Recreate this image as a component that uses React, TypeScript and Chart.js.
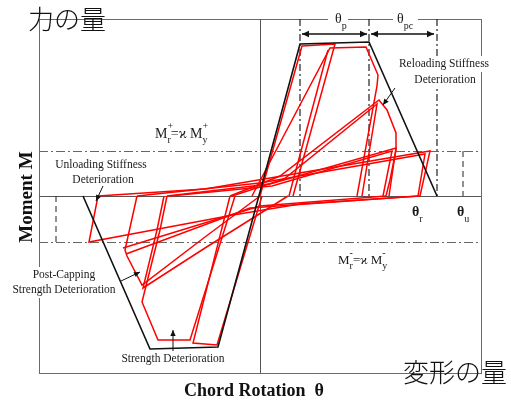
import React, { useEffect, useRef } from "react";
import { Chart, registerables } from "chart.js";
Chart.register(...registerables);

// ---- axis ranges (chord rotation θ, moment M) ----
const THETA_RANGE = [-22.1, 22.1];
const M_RANGE = [-17.7, 17.7];

// ---- backbone (black) ----
const backboneTheta = [-17.7, -11.0, -4.2, 4.0, 10.9, 17.7];
const backboneM = [0, -15.3, -15.1, 15.2, 15.4, 0];

// ---- reference lines ----
const thetaCap = 4.0;      // start of θp
const thetaPeak = 10.9;    // end of θp / start of θpc
const thetaPcEnd = 17.7;   // end of θpc (θr)
const thetaUpos = 20.3;    // θu
const thetaUneg = -20.4;
const mResPos = 4.5;       // Mr+ = κ My+
const mResNeg = -4.6;      // Mr- = κ My-

// ---- red hysteresis loops [θ, M] ----
const loopCapPos1 = [[0, 0], [4.2, 15.0], [7.5, 15.2], [3.3, 0]];
const loopCapPos1b = [[6.8, 14.6], [2.9, 0]];
const loopCapPos2 = [[-0.8, 0], [7.0, 14.8], [10.6, 14.9], [11.8, 12.1], [11.7, 11.0], [9.7, 0]];
const loopPeakA = [[-2.8, 0], [2.4, 1.7], [11.7, 9.2], [10.2, 0]];
const loopPeakB = [[-3.0, 0], [2.0, 2.0], [11.9, 9.6], [12.7, 8.6], [13.6, 6.3], [13.6, 4.6], [13.0, 1.6], [12.6, 0]];
const loopResA = [[-9.0, 0], [1.2, 1.0], [13.2, 4.5], [12.3, 0]];
const loopResB = [[-9.3, 0], [1.0, 1.2], [13.6, 4.8], [12.9, 0]];
const loopResC = [[-12.3, 0], [0, 1.3], [16.5, 4.2], [15.8, 0]];
const loopResD = [[-16.2, 0], [-5.5, 0.7], [17.0, 4.5], [16.0, 0]];
const loopCapNeg1 = [[0.2, 0], [-4.3, -14.9], [-6.7, -14.7], [-3.0, 0]];
const loopCapNeg2 = [[-2.5, 0], [-7.0, -14.4], [-10.2, -14.4], [-11.8, -10.6], [-10.0, -3.4], [-9.3, 0]];
const loopNegPeakA = [[0, 0], [-5.5, -4.1], [-11.8, -8.9], [-13.3, -6.0], [-13.5, -5.4], [-12.3, 0]];
const loopNegPeakB = [[2.8, 0], [-5.5, -5.2], [-11.7, -9.2], [-10.3, -3.4], [-9.6, 0]];
const loopNegResA = [[16.0, 0], [4.0, -0.8], [-2.7, -1.9], [-17.1, -4.6], [-16.2, 0]];
const loopNegResB = [[12.6, 0], [0, -1.0], [-13.7, -5.2]];
const loopNegResC = [[15.8, 0], [-1.0, -1.2], [-13.4, -5.8]];

const redLoops = [
  loopCapPos1, loopCapPos1b, loopCapPos2, loopPeakA, loopPeakB, loopResA, loopResB, loopResC, loopResD,
  loopCapNeg1, loopCapNeg2, loopNegPeakA, loopNegPeakB, loopNegResA, loopNegResB, loopNegResC,
];

const SERIF = '"Liberation Serif", "Times New Roman", "DejaVu Serif", serif';
const JP = '"Noto Sans CJK JP", sans-serif';

type Part = { t: string; s: number; dy: number; bold?: boolean; stay?: boolean };

function rich(ctx: CanvasRenderingContext2D, x: number, base: number, parts: Part[]) {
  let cx = x;
  ctx.textAlign = "left";
  ctx.textBaseline = "alphabetic";
  for (const p of parts) {
    ctx.font = `${p.bold ? "bold " : ""}${p.s}px ${SERIF}`;
    ctx.fillText(p.t, cx, base + p.dy);
    if (!p.stay) cx += ctx.measureText(p.t).width;
  }
}

function label(ctx: CanvasRenderingContext2D, text: string, cx: number, cy: number, font: string, bg = false) {
  ctx.font = font;
  ctx.textAlign = "center";
  ctx.textBaseline = "middle";
  if (bg) {
    const w = ctx.measureText(text).width;
    ctx.fillStyle = "#fff";
    ctx.fillRect(cx - w / 2 - 2, cy - 8, w + 4, 16);
  }
  ctx.fillStyle = "#1a1a1a";
  ctx.fillText(text, cx, cy);
}

function arrow(ctx: CanvasRenderingContext2D, x1: number, y1: number, x2: number, y2: number, head = 6, both = false, lw = 1) {
  ctx.save();
  ctx.strokeStyle = "#111";
  ctx.fillStyle = "#111";
  ctx.lineWidth = lw;
  ctx.setLineDash([]);
  ctx.beginPath();
  ctx.moveTo(x1, y1);
  ctx.lineTo(x2, y2);
  ctx.stroke();
  const tip = (ax: number, ay: number, bx: number, by: number) => {
    const a = Math.atan2(by - ay, bx - ax);
    ctx.beginPath();
    ctx.moveTo(bx, by);
    ctx.lineTo(bx - head * Math.cos(a) + head * 0.45 * Math.sin(a), by - head * Math.sin(a) - head * 0.45 * Math.cos(a));
    ctx.lineTo(bx - head * Math.cos(a) - head * 0.45 * Math.sin(a), by - head * Math.sin(a) + head * 0.45 * Math.cos(a));
    ctx.closePath();
    ctx.fill();
  };
  tip(x1, y1, x2, y2);
  if (both) tip(x2, y2, x1, y1);
  ctx.restore();
}

const decorPlugin = {
  id: "decor",
  beforeDatasetsDraw(chart: any) {
    const ctx: CanvasRenderingContext2D = chart.ctx;
    const { left, right, top, bottom } = chart.chartArea;
    const X = (v: number) => chart.scales.x.getPixelForValue(v);
    const Y = (v: number) => chart.scales.y.getPixelForValue(v);
    ctx.save();
    // frame
    ctx.strokeStyle = "#6a6a6a";
    ctx.lineWidth = 1;
    ctx.strokeRect(left + 0.5, top + 0.5, right - left, bottom - top);
    // axes
    ctx.strokeStyle = "#555";
    ctx.beginPath();
    ctx.moveTo(Math.round(X(0)) + 0.5, top);
    ctx.lineTo(Math.round(X(0)) + 0.5, bottom);
    ctx.moveTo(left, Math.round(Y(0)) + 0.5);
    ctx.lineTo(right, Math.round(Y(0)) + 0.5);
    ctx.stroke();
    // residual strength lines (dash-dot)
    ctx.strokeStyle = "#666";
    ctx.setLineDash([9, 3, 2, 3]);
    for (const m of [mResPos, mResNeg]) {
      const y = Math.round(Y(m)) + 0.5;
      ctx.beginPath();
      ctx.moveTo(left, y);
      ctx.lineTo(right, y);
      ctx.stroke();
    }
    // vertical θ lines (dash-dot)
    ctx.strokeStyle = "#222";
    ctx.lineWidth = 1.2;
    ctx.setLineDash([7, 3, 2, 3]);
    for (const t of [thetaCap, thetaPeak, thetaPcEnd]) {
      ctx.beginPath();
      ctx.moveTo(X(t), top);
      ctx.lineTo(X(t), Y(0));
      ctx.stroke();
    }
    // θu dashed
    ctx.setLineDash([6, 4]);
    ctx.lineWidth = 1;
    ctx.beginPath();
    ctx.moveTo(X(thetaUpos), Y(mResPos));
    ctx.lineTo(X(thetaUpos), Y(0));
    ctx.moveTo(X(thetaUneg), Y(0));
    ctx.lineTo(X(thetaUneg), Y(mResNeg));
    ctx.stroke();
    ctx.restore();
  },
  afterDatasetsDraw(chart: any) {
    const ctx: CanvasRenderingContext2D = chart.ctx;
    const X = (v: number) => chart.scales.x.getPixelForValue(v);
    const Y = (v: number) => chart.scales.y.getPixelForValue(v);
    ctx.save();
    ctx.fillStyle = "#1a1a1a";

    // θp / θpc arrows
    const ay = Y(16.2);
    arrow(ctx, X(thetaCap) + 2, ay, X(thetaPeak) - 2, ay, 7, true, 1.3);
    arrow(ctx, X(thetaPeak) + 2, ay, X(thetaPcEnd) - 3, ay, 7, true, 1.3);

    // θp, θpc labels with white background
    ctx.fillStyle = "#fff";
    ctx.fillRect(328, 8, 20, 24);
    ctx.fillRect(393, 8, 25, 24);
    ctx.fillStyle = "#1a1a1a";
    rich(ctx, 335, 23, [{ t: "θ", s: 14, dy: 0 }, { t: "p", s: 10, dy: 6 }]);
    rich(ctx, 397, 23, [{ t: "θ", s: 14, dy: 0 }, { t: "pc", s: 10, dy: 6 }]);

    // θr, θu
    rich(ctx, 412, 216, [{ t: "θ", s: 14, dy: 0, bold: true }, { t: "r", s: 10, dy: 6 }]);
    rich(ctx, 457, 216, [{ t: "θ", s: 14, dy: 0, bold: true }, { t: "u", s: 10, dy: 6 }]);

    // Mr = κ My
    rich(ctx, 155, 138, [
      { t: "M", s: 14, dy: 0 }, { t: "+", s: 10, dy: -9, stay: true }, { t: "r", s: 10, dy: 5 },
      { t: "=ϰ M", s: 14, dy: 0 }, { t: "+", s: 10, dy: -9, stay: true }, { t: "y", s: 10, dy: 5 },
    ]);
    rich(ctx, 338, 264, [
      { t: "M", s: 13, dy: 0 }, { t: "-", s: 10, dy: -8, stay: true }, { t: "r", s: 10, dy: 5 },
      { t: "=ϰ M", s: 13, dy: 0 }, { t: "-", s: 10, dy: -8, stay: true }, { t: "y", s: 10, dy: 5 },
    ]);

    const f = `11.5px ${SERIF}`;
    label(ctx, "Unloading Stiffness", 101, 165, f);
    label(ctx, "Deterioration", 103, 180, f);
    label(ctx, "Reloading Stiffness", 444, 64, f, true);
    label(ctx, "Deterioration", 445, 80, f, true);
    label(ctx, "Post-Capping", 64, 275, f, true);
    label(ctx, "Strength Deterioration", 64, 290, f, true);
    label(ctx, "Strength Deterioration", 173, 359, f);

    // annotation arrows
    arrow(ctx, 395, 88, 383, 105, 6);
    arrow(ctx, 103, 186, 96, 201, 6);
    arrow(ctx, 121, 281, 140, 272, 6);
    arrow(ctx, 173, 351, 173, 330, 6);

    // axis titles
    ctx.fillStyle = "#111";
    ctx.font = `bold 18px ${SERIF}`;
    ctx.textAlign = "center";
    ctx.textBaseline = "middle";
    ctx.fillText("Chord Rotation  θ", 254, 391);
    ctx.save();
    ctx.translate(27, 197);
    ctx.rotate(-Math.PI / 2);
    ctx.font = `bold 19px ${SERIF}`;
    ctx.fillText("Moment M", 0, 0);
    ctx.restore();

    // Japanese labels
    ctx.fillStyle = "#111";
    ctx.font = `300 26px ${JP}`;
    ctx.textAlign = "left";
    ctx.textBaseline = "alphabetic";
    ctx.fillText("力の量", 28, 29);
    ctx.fillText("変形の量", 403, 382);
    ctx.restore();
  },
};

export default function App() {
  const ref = useRef<HTMLCanvasElement>(null);
  useEffect(() => {
    const canvas = ref.current!;
    const pts = (a: number[][]) => a.map(([x, y]) => ({ x, y }));
    const datasets: any[] = [
      {
        data: backboneTheta.map((t, i) => ({ x: t, y: backboneM[i] })),
        borderColor: "#111",
        borderWidth: 1.6,
        showLine: true,
        pointRadius: 0,
        fill: false,
      },
      ...redLoops.map((l) => ({
        data: pts(l),
        borderColor: "#ff0000",
        borderWidth: 1.5,
        showLine: true,
        pointRadius: 0,
        fill: false,
      })),
    ];
    const chart = new Chart(canvas, {
      type: "scatter",
      data: { datasets },
      options: {
        responsive: false,
        animation: false,
        devicePixelRatio: 1,
        layout: { padding: { left: 39, right: 30, top: 19, bottom: 28 } },
        scales: {
          x: { type: "linear", min: THETA_RANGE[0], max: THETA_RANGE[1], display: false },
          y: { type: "linear", min: M_RANGE[0], max: M_RANGE[1], display: false },
        },
        plugins: { legend: { display: false }, tooltip: { enabled: false } },
        elements: { line: { tension: 0 } },
      },
      plugins: [decorPlugin],
    });
    return () => chart.destroy();
  }, []);
  return (
    <div style={{ position: "fixed", left: 0, top: 0, width: 511, height: 401, background: "#fff" }}>
      <canvas ref={ref} width={511} height={401} style={{ display: "block" }} />
    </div>
  );
}
